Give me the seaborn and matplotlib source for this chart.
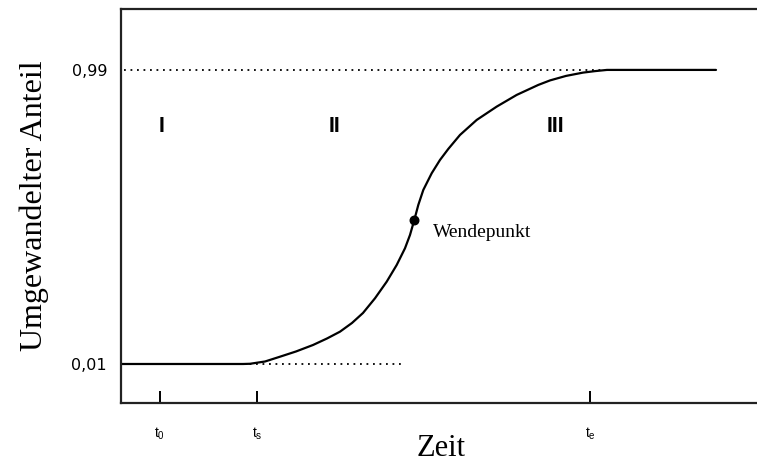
import matplotlib
matplotlib.use("Agg")
import matplotlib.pyplot as plt
import seaborn as sns
import pandas as pd

# Transformation curve (time in arbitrary units, converted fraction)
zeit = [0.0, 12.2, 12.9, 14.4, 15.9, 17.5, 19.2, 20.6, 21.9, 23.1, 24.2, 25.4,
        26.57, 27.57, 28.4, 28.9, 29.33, 29.73, 30.23, 31.07, 31.9, 32.73, 33.9,
        35.57, 37.57, 39.57, 41.73, 42.9, 44.5, 46.2, 47.4, 48.6, 59.5]
anteil = [0.01, 0.01, 0.0107, 0.0183, 0.0343, 0.0517, 0.0733, 0.095, 0.1177, 0.1467,
          0.18, 0.229, 0.2843, 0.34, 0.3957, 0.44, 0.49, 0.54, 0.59, 0.6457, 0.69,
          0.7267, 0.7733, 0.8233, 0.8677, 0.9067, 0.94, 0.955, 0.97, 0.981, 0.986,
          0.99, 0.99]

wendepunkt = (29.33, 0.49)
y_ticks = [0.01, 0.99]
y_tick_labels = ["0,01", "0,99"]
x_ticks = [3.9, 13.6, 46.9]
x_tick_labels = [r"$\mathregular{t_0}$", r"$\mathregular{t_s}$", r"$\mathregular{t_e}$"]
bereiche = ["I", "II", "III"]
bereich_x = [4.1, 21.4, 43.4]
bereich_y = 0.802

sns.set_theme(style="white")
plt.rcParams["font.family"] = ["Liberation Sans", "DejaVu Sans"]
plt.rcParams["mathtext.fontset"] = "custom"
plt.rcParams["mathtext.rm"] = "Liberation Sans"
plt.rcParams["text.color"] = "black"
plt.rcParams["axes.labelcolor"] = "black"

fig = plt.figure(figsize=(7.57, 4.63), dpi=100)
ax = fig.add_axes([121 / 757, 60 / 463, 640 / 757, 394 / 463])

df = pd.DataFrame({"Zeit": zeit, "Anteil": anteil})
sns.lineplot(data=df, x="Zeit", y="Anteil", ax=ax, color="black", linewidth=1.6,
             sort=False, estimator=None)

# guide lines at the 1 % and 99 % levels
ax.plot([0.3, 49.9], [0.99, 0.99], color="black", linewidth=1.3, linestyle=(0, (1, 2.6)))
ax.plot([12.2, 28.2], [0.01, 0.01], color="black", linewidth=1.3, linestyle=(0, (1, 2.6)))

ax.scatter([wendepunkt[0]], [wendepunkt[1]], s=38, color="black", zorder=5)
ax.text(31.2, 0.448, "Wendepunkt", family="Liberation Serif", fontsize=14,
        va="center", ha="left", color="black")

for label, bx in zip(bereiche, bereich_x):
    ax.text(bx, bereich_y, label, fontsize=15.5, fontweight="bold",
            ha="center", va="center", color="black")

ax.set_xlim(0, 64.0)
ax.set_ylim(-0.12, 1.193)

ax.set_xticks(x_ticks)
ax.set_xticklabels(x_tick_labels, fontsize=10)
ax.set_yticks(y_ticks)
ax.set_yticklabels(y_tick_labels, fontsize=11.5, family="DejaVu Sans")
ax.tick_params(axis="x", bottom=True, direction="in", length=9, width=1.4, pad=16,
               colors="black")
ax.tick_params(axis="y", left=False, direction="in", length=0, pad=10,
               colors="black")

for side in ["left", "bottom", "top"]:
    ax.spines[side].set_color("#222222")
    ax.spines[side].set_linewidth(1.6)
ax.spines["right"].set_visible(False)

ax.set_xlabel("Zeit", family="Liberation Serif", fontsize=22, color="black")
ax.set_ylabel("Umgewandelter Anteil", family="Liberation Serif", fontsize=23,
              color="black")
ax.xaxis.set_label_coords(0.5, -0.078)
ax.yaxis.set_label_coords(-0.112, 0.5)

fig.savefig("out.png", dpi=100)
